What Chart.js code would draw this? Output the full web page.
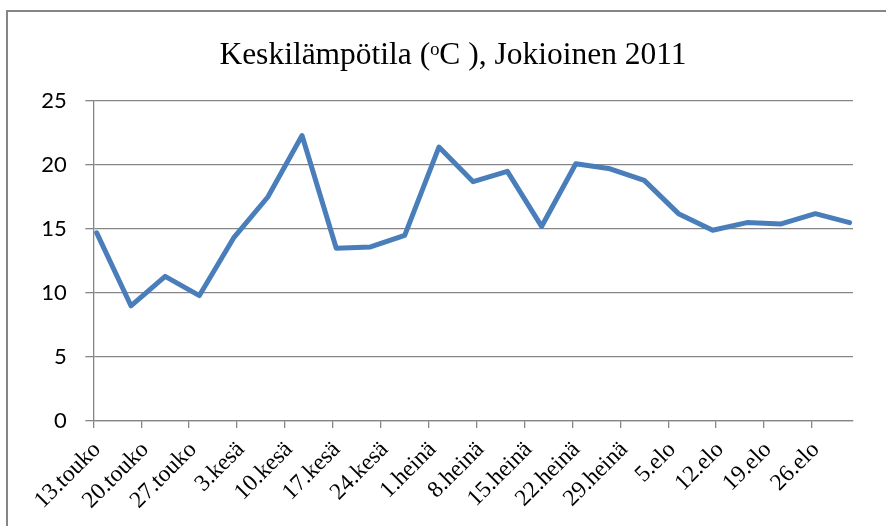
<!DOCTYPE html>
<html>
<head>
<meta charset="utf-8">
<script src="https://cdn.jsdelivr.net/npm/chart.js@4.4.1/dist/chart.umd.min.js"></script>
<style>
  html, body { margin: 0; padding: 0; background: #ffffff; }
  #wrap { width: 886px; height: 526px; position: relative; }
</style>
</head>
<body>
<div id="wrap"><canvas id="c" width="886" height="526"></canvas></div>
<script>
// Day offsets from 13 May 2011 (one observation every 5 days)
const dayOffsets = [0, 5, 10, 15, 20, 25, 30, 35, 40, 45, 50, 55, 60, 65, 70, 75, 80, 85, 90, 95, 100, 105, 110];
// Mean temperature (°C)
const temps = [14.7, 9.0, 11.3, 9.8, 14.3, 17.5, 22.3, 13.5, 13.6, 14.5, 21.4, 18.7, 19.5, 15.2, 20.1, 19.7, 18.8, 16.2, 14.9, 15.5, 15.4, 16.2, 15.5];
// Weekly tick positions (day offsets) and their labels
const tickDays = [0, 7, 14, 21, 28, 35, 42, 49, 56, 63, 70, 77, 84, 91, 98, 105];
const tickLabels = ['13.touko', '20.touko', '27.touko', '3.kesä', '10.kesä', '17.kesä', '24.kesä', '1.heinä', '8.heinä', '15.heinä', '22.heinä', '29.heinä', '5.elo', '12.elo', '19.elo', '26.elo'];
const yTicks = [0, 5, 10, 15, 20, 25];
const titleText = 'Keskilämpötila (ᵒC ), Jokioinen 2011';

const frame = {
  id: 'frame',
  beforeDraw(chart) {
    const ctx = chart.ctx;
    ctx.save();
    ctx.strokeStyle = '#868686';
    ctx.lineWidth = 2;
    ctx.beginPath();
    ctx.moveTo(7, 600);
    ctx.lineTo(7, 11);
    ctx.lineTo(900, 11);
    ctx.stroke();
    ctx.restore();
  },
  afterLayout(chart) {
    // centre the title across the whole chart frame
    if (chart.titleBlock) {
      chart.titleBlock.left = 20;
      chart.titleBlock.right = 886;
    }
  }
};

new Chart(document.getElementById('c'), {
  type: 'line',
  data: {
    datasets: [{
      // each day's point sits in the middle of its day slot on the date axis
      data: dayOffsets.map((d, i) => ({ x: d + 0.5, y: temps[i] })),
      borderColor: '#4a7ebb',
      borderWidth: 5,
      pointRadius: 0,
      tension: 0,
      borderJoinStyle: 'round',
      borderCapStyle: 'round',
      fill: false
    }]
  },
  options: {
    responsive: false,
    animation: false,
    layout: { padding: { left: 20, right: 33, top: 0, bottom: 0 } },
    plugins: {
      legend: { display: false },
      tooltip: { enabled: false },
      title: {
        display: true,
        text: titleText,
        color: '#000000',
        font: { family: "'Liberation Serif', 'DejaVu Serif', serif", size: 31.5, weight: 'normal', lineHeight: 1.2 },
        padding: { top: 36.5, bottom: 26.7 }
      }
    },
    scales: {
      x: {
        type: 'linear',
        min: 0,
        max: 111,
        afterBuildTicks(scale) { scale.ticks = tickDays.map(v => ({ value: v })); },
        afterFit(scale) { scale.height = 105; },
        ticks: {
          autoSkip: false,
          maxRotation: 45,
          minRotation: 45,
          padding: 8,
          labelOffset: 4,
          color: '#000000',
          font: { family: "'Liberation Serif', serif", size: 23.5 },
          callback(value, index) { return tickLabels[index]; }
        },
        grid: { display: true, drawOnChartArea: false, drawTicks: true, tickLength: 7, color: '#868686', lineWidth: 1.3 },
        border: { display: true, color: '#868686', width: 1.3 }
      },
      y: {
        min: 0,
        max: 25,
        afterBuildTicks(scale) { scale.ticks = yTicks.map(v => ({ value: v })); },
        afterFit(scale) { scale.width = 73.3; },
        ticks: {
          padding: 18.6,
          color: '#000000',
          font: { family: "Lato, 'Open Sans', sans-serif", size: 22 }
        },
        grid: { color: '#868686', lineWidth: 1.3, tickLength: 8, drawTicks: true },
        border: { display: true, color: '#868686', width: 1.3 }
      }
    }
  },
  plugins: [frame]
});
</script>
</body>
</html>
